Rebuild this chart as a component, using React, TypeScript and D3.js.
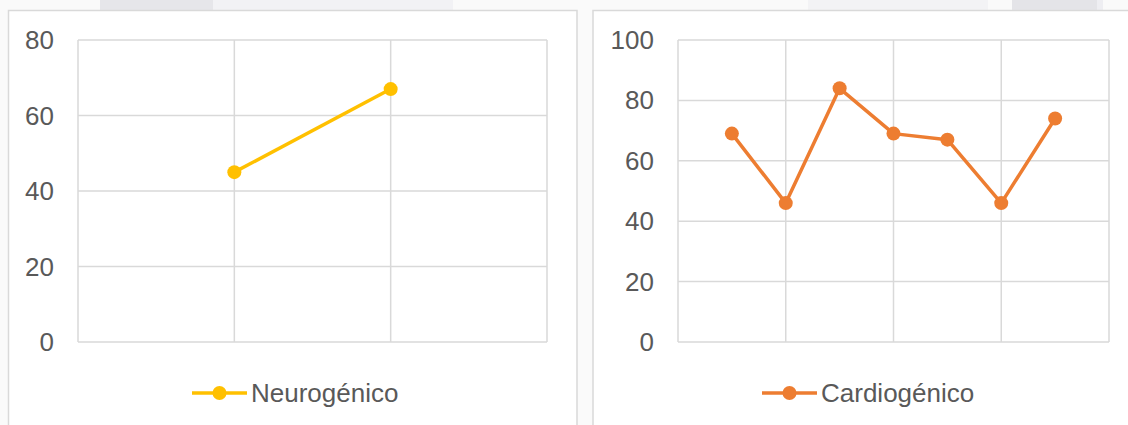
import React from "react";
import * as d3 from "d3";

// Category slots along each x axis; empty slots are padding at the ends.
const neuroSlots = ["", "A", "B", ""];
const neuroValues: (number | null)[] = [null, 45, 67, null];
const neuroTicks = [0, 20, 40, 60, 80];

const cardioSlots = ["", "1", "2", "3", "4", "5", "6", "7", ""];
const cardioValues: (number | null)[] = [null, 69, 46, 84, 69, 67, 46, 74, null];
const cardioTicks = [0, 20, 40, 60, 80, 100];

const FONT = "'Liberation Sans', Arial, sans-serif";
const TEXT = "#595959";
const GRID = "#d9d9d9";

type PanelProps = {
  x0: number;
  x1: number;
  y0: number;
  y1: number;
  slots: string[];
  values: (number | null)[];
  ticks: number[];
  gridEvery: number;
  color: string;
  name: string;
  legendX: number;
};

function Panel({ x0, x1, y0, y1, slots, values, ticks, gridEvery, color, name, legendX }: PanelProps) {
  const x = d3.scaleLinear().domain([0, slots.length - 1]).range([x0, x1]);
  const y = d3.scaleLinear().domain([0, d3.max(ticks) as number]).range([y1, y0]);
  const line = d3
    .line<number | null>()
    .defined((d) => d != null)
    .x((_, i) => x(i))
    .y((d) => y(d as number));
  const vGrid = d3.range(0, slots.length, gridEvery);
  const legendY = 393;
  return (
    <g>
      {ticks.map((t) => (
        <line key={"h" + t} x1={x0} x2={x1} y1={y(t)} y2={y(t)} stroke={GRID} strokeWidth={1.5} />
      ))}
      {vGrid.map((i) => (
        <line key={"v" + i} x1={x(i)} x2={x(i)} y1={y0} y2={y1} stroke={GRID} strokeWidth={1.5} />
      ))}
      {ticks.map((t) => (
        <text
          key={"t" + t}
          x={x0 - 24}
          y={y(t)}
          textAnchor="end"
          dominantBaseline="central"
          fontFamily={FONT}
          fontSize={26}
          fill={TEXT}
        >
          {t}
        </text>
      ))}
      <path d={line(values) || ""} fill="none" stroke={color} strokeWidth={3.5} strokeLinejoin="round" />
      {values.map((v, i) =>
        v == null ? null : <circle key={"p" + i} cx={x(i)} cy={y(v)} r={7} fill={color} />
      )}
      <line x1={legendX} x2={legendX + 55} y1={legendY} y2={legendY} stroke={color} strokeWidth={3.5} />
      <circle cx={legendX + 27.5} cy={legendY} r={7} fill={color} />
      <text
        x={legendX + 59}
        y={legendY}
        dominantBaseline="central"
        fontFamily={FONT}
        fontSize={26}
        fill={TEXT}
      >
        {name}
      </text>
    </g>
  );
}

export default function App() {
  return (
    <svg
      width={1128}
      height={425}
      style={{ position: "absolute", left: 0, top: 0, display: "block" }}
    >
      <rect x={0} y={0} width={1128} height={425} fill="#fafafa" />
      {/* faint strip of content above the panels */}
      <rect x={100} y={0} width={113} height={10} fill="#e6e6ea" />
      <rect x={213} y={0} width={240} height={10} fill="#f2f2f5" />
      <rect x={808} y={0} width={180} height={10} fill="#f3f3f5" />
      <rect x={1012} y={0} width={85} height={10} fill="#e4e4e8" />
      <rect x={1097} y={0} width={6} height={10} fill="#eeeef2" />
      {/* chart panels */}
      <rect x={8.5} y={10.5} width={568.5} height={430} fill="#ffffff" stroke={GRID} strokeWidth={1.5} />
      <rect x={593} y={10.5} width={560} height={430} fill="#ffffff" stroke={GRID} strokeWidth={1.5} />
      <Panel
        x0={78}
        x1={547}
        y0={40}
        y1={342}
        slots={neuroSlots}
        values={neuroValues}
        ticks={neuroTicks}
        gridEvery={1}
        color="#FFC000"
        name="Neurogénico"
        legendX={192}
      />
      <Panel
        x0={678}
        x1={1109}
        y0={40}
        y1={342}
        slots={cardioSlots}
        values={cardioValues}
        ticks={cardioTicks}
        gridEvery={2}
        color="#ED7D31"
        name="Cardiogénico"
        legendX={762}
      />
    </svg>
  );
}
